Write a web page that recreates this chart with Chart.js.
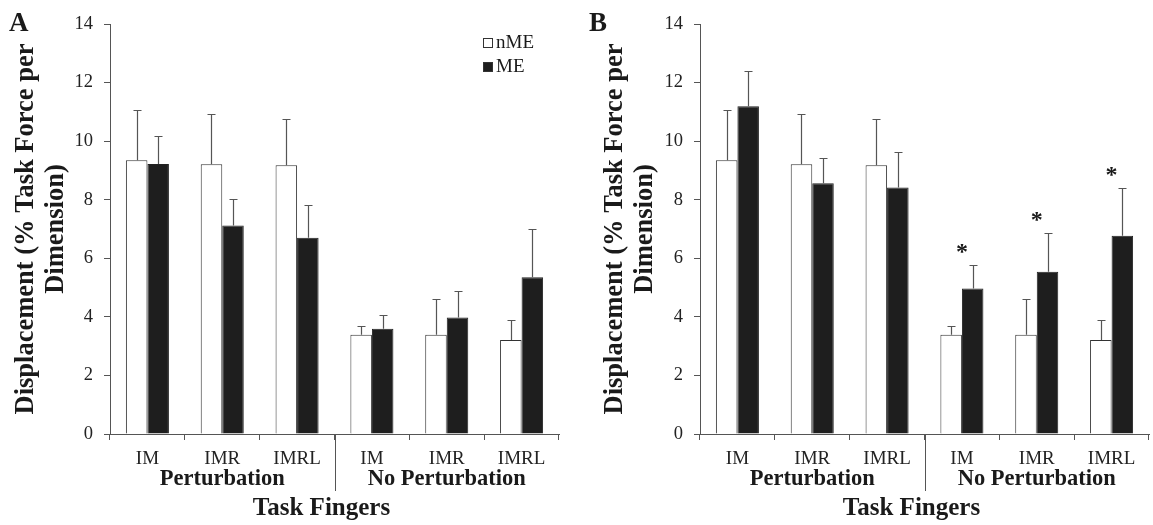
<!DOCTYPE html>
<html>
<head>
<meta charset="utf-8">
<script src="https://cdn.jsdelivr.net/npm/chart.js@4.4.0/dist/chart.umd.min.js"></script>
<style>
  html, body { margin: 0; padding: 0; background: #fff; }
  #wrap { position: relative; width: 1153px; height: 525px; }
  canvas { position: absolute; top: 0; }
  #chartA { left: 0; }
  #chartB { left: 580px; }
</style>
</head>
<body>
<div id="wrap">
  <canvas id="chartA" width="580" height="525"></canvas>
  <canvas id="chartB" width="573" height="525"></canvas>
</div>
<script>
// ====================== Data ======================
const fingers = ['IM', 'IMR', 'IMRL', 'IM', 'IMR', 'IMRL'];
const groups = ['Perturbation', 'No Perturbation'];
const seriesNames = ['nME', 'ME'];
const yMin = 0, yMax = 14, yStep = 2;
const yTitle = ['Displacement (% Task Force per', 'Dimension)'];
const xTitle = 'Task Fingers';

// panel A
const nmeA    = [9.35, 9.21, 9.18, 3.39, 3.39, 3.21];
const nmeErrA = [1.70, 1.71, 1.59, 0.30, 1.23, 0.67];
const meA     = [9.22, 7.12, 6.70, 3.59, 3.98, 5.35];
const meErrA  = [0.95, 0.91, 1.13, 0.48, 0.91, 1.65];
const starsA  = [0, 0, 0, 0, 0, 0];

// panel B
const nmeB    = [9.35, 9.21, 9.18, 3.39, 3.39, 3.21];
const nmeErrB = [1.70, 1.71, 1.59, 0.30, 1.23, 0.67];
const meB     = [11.19, 8.56, 8.42, 4.97, 5.54, 6.77];
const meErrB  = [1.20, 0.88, 1.22, 0.81, 1.34, 1.64];
const starsB  = [0, 0, 0, 1, 1, 1];

Chart.defaults.font.family = "'Liberation Serif', 'Times New Roman', serif";
Chart.defaults.color = '#222';

const AXIS = '#555';

// ====================== Plugin: error bars, stars, labels ======================
const extras = {
  id: 'extras',
  afterDatasetsDraw(chart, args, opts) {
    const ctx = chart.ctx, y = chart.scales.y, x = chart.scales.x;
    ctx.save();
    ctx.strokeStyle = AXIS;
    ctx.lineWidth = 1.2;
    chart.data.datasets.forEach((ds, i) => {
      chart.getDatasetMeta(i).data.forEach((bar, j) => {
        const top = Math.round(y.getPixelForValue(ds.data[j] + ds.err[j])) + 0.5;
        const bx = Math.round(bar.x) + 0.5;
        ctx.beginPath();
        ctx.moveTo(bx, bar.y);
        ctx.lineTo(bx, top);
        ctx.moveTo(bx - 4, top);
        ctx.lineTo(bx + 4, top);
        ctx.stroke();
      });
    });

    // significance stars above ME error bar, centred on the category
    const me = chart.data.datasets[1];
    ctx.fillStyle = '#1a1a1a';
    ctx.font = "bold 24px 'Liberation Serif', serif";
    ctx.textAlign = 'center';
    ctx.textBaseline = 'alphabetic';
    opts.stars.forEach((s, j) => {
      if (!s) return;
      const top = y.getPixelForValue(me.data[j] + me.err[j]);
      ctx.fillText('*', x.getPixelForValue(j), top - 6);
    });
    ctx.restore();
  },
  afterDraw(chart, args, opts) {
    const ctx = chart.ctx, x = chart.scales.x, ca = chart.chartArea;
    ctx.save();

    // divider between groups
    const div = Math.round((x.getPixelForValue(2) + x.getPixelForValue(3)) / 2) + 0.5;
    ctx.strokeStyle = AXIS;
    ctx.lineWidth = 1;
    ctx.beginPath();
    ctx.moveTo(div, ca.bottom);
    ctx.lineTo(div, ca.bottom + 57);
    ctx.stroke();

    // group labels
    ctx.fillStyle = '#1a1a1a';
    ctx.textAlign = 'center';
    ctx.textBaseline = 'middle';
    ctx.font = "bold 22.5px 'Liberation Serif', serif";
    groups.forEach((g, k) => {
      const cx = (x.getPixelForValue(k * 3) + x.getPixelForValue(k * 3 + 2)) / 2;
      ctx.fillText(g, cx, ca.bottom + 45);
    });

    // axis title
    ctx.font = "bold 25px 'Liberation Serif', serif";
    ctx.fillText(xTitle, (ca.left + ca.right) / 2 - 13, ca.bottom + 75);

    // panel letter
    ctx.textAlign = 'left';
    ctx.font = "bold 27px 'Liberation Serif', serif";
    ctx.fillText(opts.letter, 9, 24);

    // legend
    if (opts.legend) {
      const bx = ca.right - 76;
      ctx.font = "19px 'Liberation Serif', serif";
      chart.data.datasets.forEach((ds, i) => {
        const cy = ca.top + 19 + i * 24;
        ctx.fillStyle = ds.backgroundColor;
        ctx.fillRect(bx, cy - 5, 10, 10);
        ctx.strokeStyle = '#333';
        ctx.strokeRect(bx + 0.5, cy - 4.5, 9, 9);
        ctx.fillStyle = '#1a1a1a';
        ctx.fillText(ds.label, bx + 13, cy);
      });
    }
    ctx.restore();
  }
};

// ====================== Chart factory ======================
function makeChart(id, letter, nme, nmeErr, me, meErr, stars, yWidth, titlePad, padRight, legend) {
  return new Chart(document.getElementById(id), {
    type: 'bar',
    data: {
      labels: fingers,
      datasets: [
        { label: seriesNames[0], data: nme, err: nmeErr, backgroundColor: '#ffffff', borderColor: '#333', borderWidth: 1 },
        { label: seriesNames[1], data: me, err: meErr, backgroundColor: '#1e1e1e', borderColor: '#222', borderWidth: 1 }
      ]
    },
    options: {
      responsive: false,
      animation: false,
      categoryPercentage: 0.575,
      barPercentage: 1.0,
      layout: { padding: { top: 24, right: padRight, bottom: 0, left: 0 } },
      plugins: {
        legend: { display: false },
        tooltip: { enabled: false },
        extras: { letter, stars, legend }
      },
      scales: {
        x: {
          grid: { offset: true, drawOnChartArea: false, tickLength: 6, color: AXIS },
          border: { color: AXIS, width: 1 },
          ticks: { color: '#222', font: { size: 19 }, padding: 8, maxRotation: 0, autoSkip: false },
          afterFit(s) { s.height = 91; }
        },
        y: {
          min: yMin, max: yMax,
          ticks: { stepSize: yStep, color: '#222', font: { size: 18.5 }, padding: 11 },
          grid: { drawOnChartArea: false, tickLength: 6, color: AXIS },
          border: { color: AXIS, width: 1 },
          title: {
            display: true, text: yTitle, color: '#1a1a1a',
            font: { size: 26.5, weight: 'bold', lineHeight: 1.147 },
            padding: { top: titlePad, bottom: 0 }
          },
          afterFit(s) { s.width = yWidth; }
        }
      }
    },
    plugins: [extras]
  });
}

makeChart('chartA', 'A', nmeA, nmeErrA, meA, meErrA, starsA, 110, 10.5, 21, true);
makeChart('chartB', 'B', nmeB, nmeErrB, meB, meErrB, starsB, 120, 19.5, 4, false);
</script>
</body>
</html>
